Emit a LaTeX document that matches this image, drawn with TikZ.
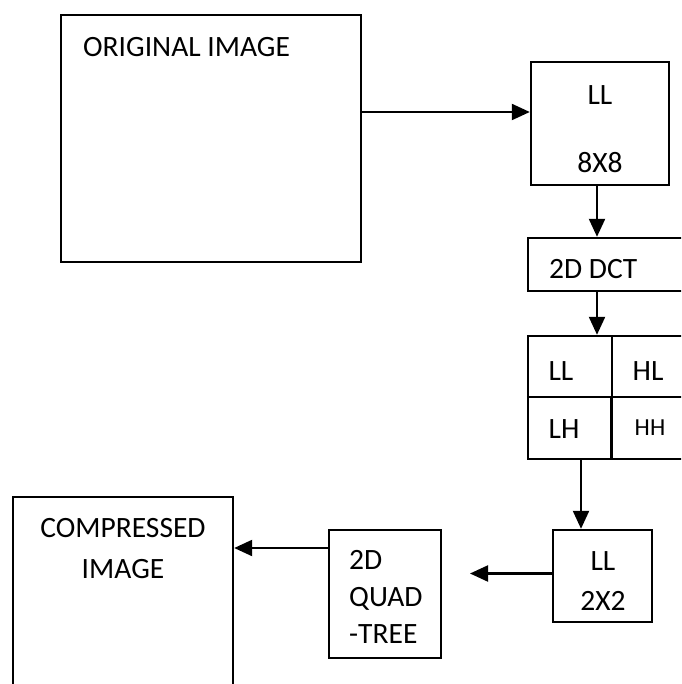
\documentclass[tikz,border=0pt]{standalone}
\usepackage{fontspec}
\setmainfont{Carlito}
\usetikzlibrary{arrows.meta}
\begin{document}
\begin{tikzpicture}[x=1pt,y=-1pt,
  box/.style={draw=black,line width=2.4pt,rectangle,inner sep=0pt},
  lbl/.style={inner sep=0pt,font=\fontsize{29.5}{35}\selectfont},
  small/.style={inner sep=0pt,font=\fontsize{24.5}{29}\selectfont},
  arr/.style={line width=2.2pt,-{Triangle[length=18pt,width=16pt]}}]
\useasboundingbox (0,0) rectangle (681,684);
\begin{scope}
\clip (0,0) rectangle (681,684);
% boxes
\node[box,minimum width=300pt,minimum height=247pt] (orig) at (211,138.5) {};
\node[box,minimum width=138pt,minimum height=123pt] (ll8) at (600,123.5) {};
\node[box,minimum width=160pt,minimum height=53pt] (dct) at (608,264.5) {};
\node[box,minimum width=160pt,minimum height=123pt] (grid) at (608,397.5) {};
\draw[line width=1.8pt] (grid.west |- 0,397) -- (grid.east |- 0,397);
\draw[line width=1.6pt] (612,336) -- (612,397);
\draw[line width=2.8pt] (611.5,397) -- (611.5,459);
\node[box,minimum width=99pt,minimum height=92pt] (ll2) at (602.5,576) {};
\node[box,minimum width=112pt,minimum height=128pt] (quad) at (385,594) {};
\node[box,minimum width=220pt,minimum height=210pt] (comp) at (123,602) {};
\end{scope}
% texts
\node[lbl,anchor=base west] (torig) at (83,57) {ORIGINAL IMAGE};
\node[lbl,anchor=base] (tll8a) at (600,105) {LL};
\node[lbl,anchor=base] (tll8b) at (600,173) {8X8};
\node[lbl,anchor=base west] (tdct) at (549,278) {2D DCT};
\node[lbl,anchor=base] (tgll) at (561,380) {LL};
\node[lbl,anchor=base] (tghl) at (648,380) {HL};
\node[lbl,anchor=base] (tglh) at (564,438) {LH};
\node[small,anchor=base] (tghh) at (650,435) {HH};
\node[lbl,anchor=base] (tll2a) at (603,570) {LL};
\node[lbl,anchor=base] (tll2b) at (603,610) {2X2};
\node[lbl,anchor=base west] (tq1) at (349,569) {2D};
\node[lbl,anchor=base west] (tq2) at (349,606) {QUAD};
\node[lbl,anchor=base west] (tq3) at (349,643) {-TREE};
\node[lbl,anchor=base] (tc1) at (123,537) {COMPRESSED};
\node[lbl,anchor=base] (tc2) at (123,578) {IMAGE};
% connectors
\coordinate (freeend) at (470,573.5);
\draw[arr] ([yshift=11.5pt]ll8.west -| orig.east) -- ([yshift=11.5pt]ll8.west);
\draw[arr] ([xshift=-3pt]ll8.south) -- ([xshift=-3pt]ll8.south |- dct.north);
\draw[arr] ([xshift=-3pt]ll8.south |- dct.south) -- ([xshift=-3pt]ll8.south |- grid.north);
\draw[arr] ([xshift=-21.5pt]ll2.north |- grid.south) -- ([xshift=-21.5pt]ll2.north);
\draw[arr] (freeend -| ll2.west) -- (freeend);
\draw[arr] ([yshift=46pt]quad.west) -- ([yshift=46pt]quad.west -| comp.east);
\end{tikzpicture}
\end{document}
